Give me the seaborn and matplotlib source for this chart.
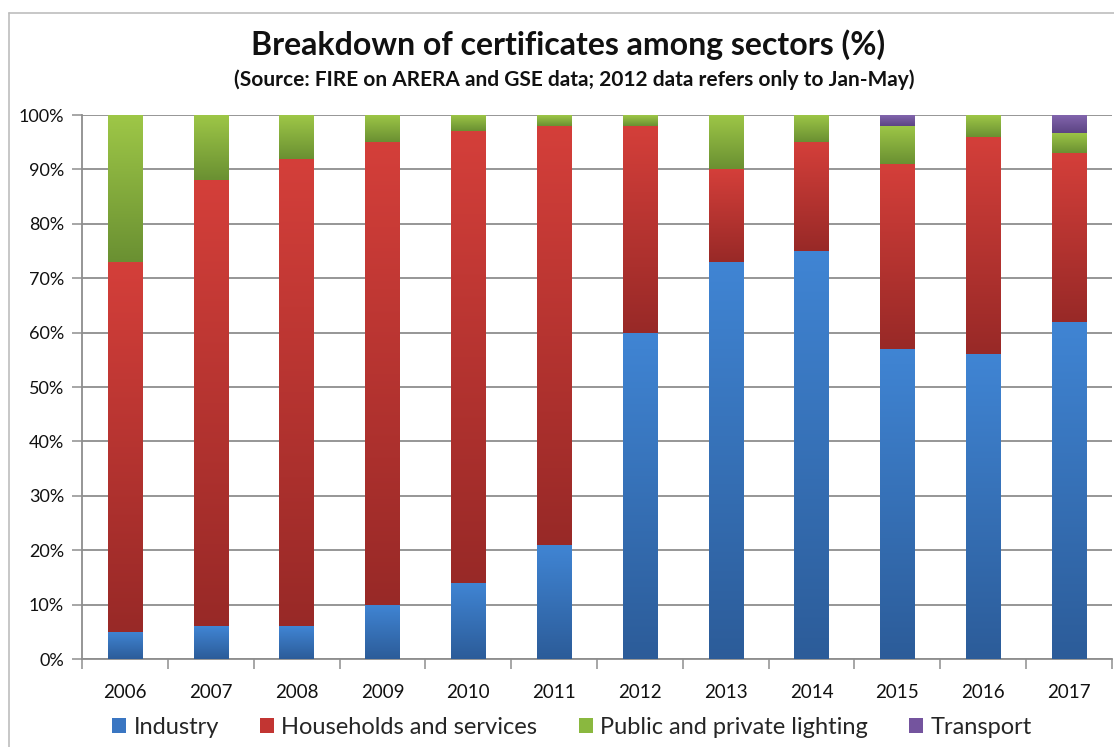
import numpy as np
import pandas as pd
import matplotlib
matplotlib.use("Agg")
import matplotlib.pyplot as plt
import seaborn as sns
from matplotlib.colors import LinearSegmentedColormap
from matplotlib.patches import Rectangle
from matplotlib.lines import Line2D

# ---- data (% of certificates by sector) ----
years = ["2006", "2007", "2008", "2009", "2010", "2011",
         "2012", "2013", "2014", "2015", "2016", "2017"]
industry = [5, 6, 6, 10, 14, 21, 60, 73, 75, 57, 56, 62]
households = [68, 82, 86, 85, 83, 77, 38, 17, 20, 34, 40, 31]
lighting = [27, 12, 8, 5, 3, 2, 2, 10, 5, 7, 4, 3.7]
transport = [0, 0, 0, 0, 0, 0, 0, 0, 0, 2, 0, 3.3]
y_ticks = [0, 10, 20, 30, 40, 50, 60, 70, 80, 90, 100]

series_names = ["Industry", "Households and services",
                "Public and private lighting", "Transport"]
series_values = [industry, households, lighting, transport]
# (light top, dark bottom) for each segment's gradient
grad_colors = [("#4085d4", "#2c5c99"),
               ("#d43f3a", "#982927"),
               ("#9ec747", "#6a9032"),
               ("#8265ad", "#5c4483")]
legend_colors = ["#3a76c2", "#c23532", "#8ab83f", "#74549e"]

sns.set_theme(style="white")
plt.rcParams["font.family"] = ["Lato", "DejaVu Sans"]

fig = plt.figure(figsize=(11.14, 7.47), dpi=100)
W, H = 1114, 747
ax = fig.add_axes([82 / W, 1 - 659 / H, (1112 - 82) / W, (659 - 115) / H])

df = pd.DataFrame({"year": years})
for name, vals in zip(series_names, series_values):
    df[name] = vals
cum = df[series_names].cumsum(axis=1)

bar_w = 0.40
# draw stacks from the tallest cumulative total down
for k in range(len(series_names) - 1, -1, -1):
    name = series_names[k]
    sns.barplot(data=cum, x=df["year"], y=cum[name], color=legend_colors[k],
                width=bar_w, ax=ax, zorder=2, linewidth=0, saturation=1)

# gradient fill for each visible segment
grad = np.linspace(0, 1, 256).reshape(-1, 1)
for k, name in enumerate(series_names):
    top_c, bot_c = grad_colors[k]
    cmap = LinearSegmentedColormap.from_list(name, [bot_c, top_c])
    lows = cum[name] - df[name]
    for i in range(len(years)):
        lo, hi = lows.iloc[i], cum[name].iloc[i]
        if hi - lo <= 0:
            continue
        ax.imshow(grad, extent=[i - bar_w / 2, i + bar_w / 2, lo, hi],
                  origin="lower", cmap=cmap, aspect="auto", zorder=3,
                  interpolation="bilinear")

ax.set_xlim(-0.5, len(years) - 0.5)
ax.set_ylim(0, 100)

# axes styling
ax.set_yticks(y_ticks)
ax.set_yticklabels([f"{v}%" for v in y_ticks], fontsize=13, color="#111111")
ax.yaxis.grid(True, color="#8e8e8e", linewidth=1.3, zorder=0)
ax.set_axisbelow(True)
ax.set_xticks(range(len(years)))
ax.set_xticklabels(years, fontsize=13.5, color="#111111")
ax.set_xticks(np.arange(-0.5, len(years)), minor=True)
ax.tick_params(axis="x", which="major", length=0, pad=18)
ax.tick_params(axis="x", which="minor", length=7, width=1.1, color="#8e8e8e",
               direction="out", bottom=True)
ax.tick_params(axis="y", which="major", length=7, width=1.1, color="#8e8e8e",
               direction="out", left=True, pad=6)
for s in ["top", "right"]:
    ax.spines[s].set_visible(False)
for s in ["left", "bottom"]:
    ax.spines[s].set_color("#8e8e8e")
    ax.spines[s].set_linewidth(1.3)
ax.set_xlabel("")
ax.set_ylabel("")

# titles
fig.text(568 / W, 1 - 45 / H, "Breakdown of certificates among sectors (%)",
         ha="center", va="center", fontsize=23, fontweight="bold", color="#111111")
fig.text(574 / W, 1 - 80 / H,
         "(Source: FIRE on ARERA and GSE data; 2012 data refers only to Jan-May)",
         ha="center", va="center", fontsize=15, fontweight="bold", color="#111111")

# legend
handles = [Rectangle((0, 0), 1, 1, facecolor=c, edgecolor="none") for c in legend_colors]
fig.legend(handles, series_names, loc="center", bbox_to_anchor=(572 / W, 1 - 727 / H),
           ncol=4, frameon=False, fontsize=17, handlelength=0.6, handleheight=0.6,
           handletextpad=0.3, columnspacing=1.75)

# outer chart border
fig.add_artist(Line2D([9 / W, 9 / W], [0, 1 - 13 / H], transform=fig.transFigure,
                      color="#bdbdbd", linewidth=1.2))
fig.add_artist(Line2D([9 / W, 1], [1 - 13 / H, 1 - 13 / H], transform=fig.transFigure,
                      color="#bdbdbd", linewidth=1.2))

fig.savefig("out.png", dpi=100, facecolor="white")
